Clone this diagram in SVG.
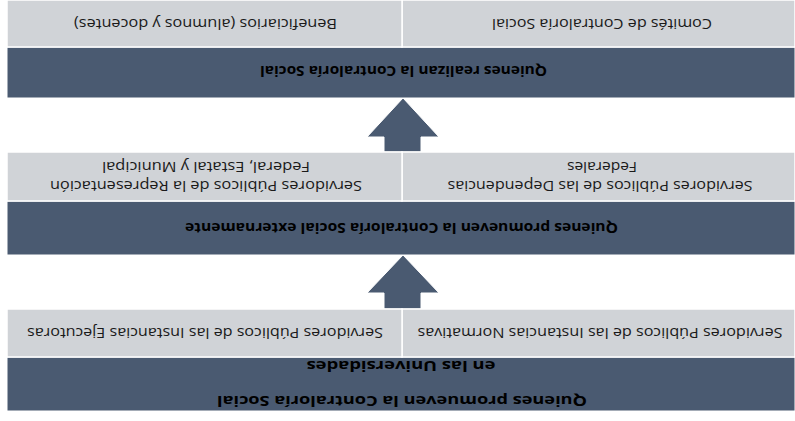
<svg xmlns="http://www.w3.org/2000/svg" width="795" height="421" viewBox="0 0 795 421">
<style>
.dark{fill:#4A5A71;stroke:#ffffff;stroke-width:1}
.light{fill:#D0D3D7;stroke:#ffffff;stroke-width:1.5}
.arrow{fill:#4A5A71;stroke:#ffffff;stroke-width:1}
.t{font-family:"Open Sans","Liberation Sans",sans-serif;font-size:15px;fill:#1a1a1a;text-anchor:middle}
.b{font-family:"Open Sans","Liberation Sans",sans-serif;font-size:15px;font-weight:bold;fill:#000;text-anchor:middle}
</style>
<rect width="795" height="421" fill="#ffffff"/>
<g transform="rotate(180 397.5 210.5)">
<g id="connectors">
<polygon class="arrow" points="374,112 411,112 411,128 428,128 392,166 356,128 374,128"/>
<polygon class="arrow" points="374,269 411,269 411,284 428,284 392,323 356,284 374,284"/>
</g>
<g id="promotores-universidades">
<rect class="dark" x="0" y="10" width="788" height="54"/>
<text class="b" x="393" y="25" textLength="370" lengthAdjust="spacingAndGlyphs">Quienes promueven la Contraloría Social</text>
<text class="b" x="394" y="60" textLength="189" lengthAdjust="spacingAndGlyphs">en las Universidades</text>
</g>
<g id="instancias-normativas">
<rect class="light" x="0" y="64" width="393" height="48"/>
<text class="t" x="195" y="93" textLength="365" lengthAdjust="spacingAndGlyphs">Servidores Públicos de las Instancias Normativas</text>
</g>
<g id="instancias-ejecutoras">
<rect class="light" x="393" y="64" width="395" height="48"/>
<text class="t" x="590" y="93" textLength="356" lengthAdjust="spacingAndGlyphs">Servidores Públicos de las Instancias Ejecutoras</text>
</g>
<g id="promotores-externos">
<rect class="dark" x="0" y="166" width="788" height="54"/>
<text class="b" x="393.5" y="198" textLength="433" lengthAdjust="spacingAndGlyphs">Quienes promueven la Contraloría Social externamente</text>
</g>
<g id="dependencias-federales">
<rect class="light" x="0" y="220" width="393" height="49"/>
<text class="t" x="195" y="240" textLength="305" lengthAdjust="spacingAndGlyphs">Servidores Públicos de las Dependencias</text>
<text class="t" x="193" y="259" textLength="70" lengthAdjust="spacingAndGlyphs">Federales</text>
</g>
<g id="representacion-federal">
<rect class="light" x="393" y="220" width="395" height="49"/>
<text class="t" x="589" y="240" textLength="312" lengthAdjust="spacingAndGlyphs">Servidores Públicos de la Representación</text>
<text class="t" x="589" y="259" textLength="208" lengthAdjust="spacingAndGlyphs">Federal, Estatal y Municipal</text>
</g>
<g id="realizan">
<rect class="dark" x="0" y="323" width="788" height="51"/>
<text class="b" x="391.5" y="355" textLength="287" lengthAdjust="spacingAndGlyphs">Quienes realizan la Contraloría Social</text>
</g>
<g id="comites">
<rect class="light" x="0" y="374" width="393" height="47"/>
<text class="t" x="193" y="402" textLength="220" lengthAdjust="spacingAndGlyphs">Comités de Contraloría Social</text>
</g>
<g id="beneficiarios">
<rect class="light" x="393" y="374" width="395" height="47"/>
<text class="t" x="589.5" y="402" textLength="263" lengthAdjust="spacingAndGlyphs">Beneficiarios (alumnos y docentes)</text>
</g>
</g>
</svg>
